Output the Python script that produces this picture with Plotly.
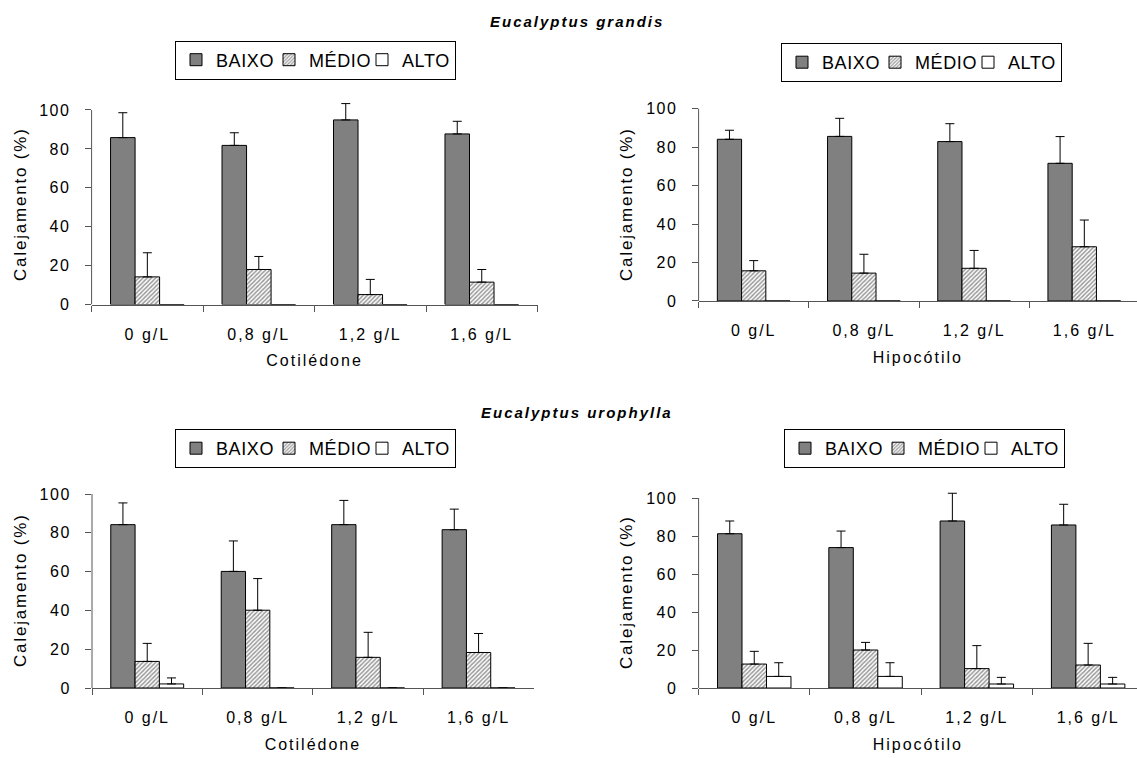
import plotly.graph_objects as go

# ---------------- data ----------------
categories = ["0 g/L", "0,8 g/L", "1,2 g/L", "1,6 g/L"]
series_names = ["BAIXO", "MÉDIO", "ALTO"]
y_ticks = [0, 20, 40, 60, 80, 100]

# Eucalyptus grandis - Cotilédone
gc_baixo = [85.8, 81.8, 94.9, 87.7]
gc_baixo_err = [12.8, 6.5, 8.4, 6.5]
gc_medio = [14.2, 18.0, 5.1, 11.5]
gc_medio_err = [12.4, 6.7, 7.8, 6.5]
gc_alto = [0, 0, 0, 0]
gc_alto_err = [0, 0, 0, 0]

# Eucalyptus grandis - Hipocótilo
gh_baixo = [84.1, 85.6, 82.9, 71.6]
gh_baixo_err = [4.7, 9.4, 9.3, 13.9]
gh_medio = [15.7, 14.5, 17.0, 28.2]
gh_medio_err = [5.3, 9.8, 9.3, 13.9]
gh_alto = [0, 0, 0, 0]
gh_alto_err = [0, 0, 0, 0]

# Eucalyptus urophylla - Cotilédone
uc_baixo = [84.2, 60.1, 84.2, 81.6]
uc_baixo_err = [11.2, 15.7, 12.5, 10.6]
uc_medio = [13.7, 40.1, 15.8, 18.3]
uc_medio_err = [9.3, 16.3, 12.9, 9.8]
uc_alto = [2.1, 0, 0, 0]
uc_alto_err = [3.1, 0, 0, 0]

# Eucalyptus urophylla - Hipocótilo
uh_baixo = [81.2, 73.9, 87.9, 85.8]
uh_baixo_err = [6.7, 8.7, 14.6, 10.9]
uh_medio = [12.6, 20.0, 10.2, 12.1]
uh_medio_err = [6.7, 4.0, 12.1, 11.4]
uh_alto = [6.1, 6.1, 2.1, 2.1]
uh_alto_err = [7.2, 7.2, 3.5, 3.5]

titles = ["Eucalyptus grandis", "Eucalyptus urophylla"]
x_titles = ["Cotilédone", "Hipocótilo", "Cotilédone", "Hipocótilo"]
y_title = "Calejamento (%)"

# ---------------- styling ----------------
W, H = 1137, 758
FONT = "Liberation Sans, Arial, Helvetica, sans-serif"
AXC = "#555555"


def sp(text, ls=2.0):
    return f'<span style="letter-spacing:{ls}px">{text}</span>'


panels = [
    dict(data=[(gc_baixo, gc_baixo_err), (gc_medio, gc_medio_err), (gc_alto, gc_alto_err)],
         alto_err=False, xpx=(91.6, 537.5), y0=304.5, y100=110.0, xend=3.5,
         leg=(175, 40.5), ytit=(20, 204)),
    dict(data=[(gh_baixo, gh_baixo_err), (gh_medio, gh_medio_err), (gh_alto, gh_alto_err)],
         alto_err=False, xpx=(698.6, 1137), y0=301.0, y100=108.7, xend=3.478,
         leg=(781, 43.0), ytit=(626, 204)),
    dict(data=[(uc_baixo, uc_baixo_err), (uc_medio, uc_medio_err), (uc_alto, uc_alto_err)],
         alto_err=True, xpx=(92.0, 533.8), y0=688.0, y100=494.0, xend=3.5,
         leg=(175, 429.0), ytit=(20, 590)),
    dict(data=[(uh_baixo, uh_baixo_err), (uh_medio, uh_medio_err), (uh_alto, uh_alto_err)],
         alto_err=True, xpx=(698.6, 1137), y0=688.0, y100=498.0, xend=3.439,
         leg=(784, 429.0), ytit=(626, 592)),
]

YMAX = 105
fig = go.Figure()
layout = {}
shapes = []
annotations = []

for i, p in enumerate(panels):
    n = "" if i == 0 else str(i + 1)
    xa, ya = "x" + n, "y" + n
    leg = "legend" + n
    for k, (vals, errs) in enumerate(p["data"]):
        marker = dict(line=dict(color="black", width=1))
        if k == 0:
            marker["color"] = "#808080"
        elif k == 1:
            marker["color"] = "white"
            marker["pattern"] = dict(shape="/", fgcolor="#333333", bgcolor="white",
                                     size=3, solidity=0.5)
        else:
            marker["color"] = "white"
        err = dict(type="data", array=errs, arrayminus=[0] * len(errs), symmetric=False,
                   color="black", thickness=1, width=4.5)
        if k == 2 and not p["alto_err"]:
            err["visible"] = False
        fig.add_trace(go.Bar(
            x=categories, y=vals, name=sp(series_names[k], 0.6),
            marker=marker, error_y=err, xaxis=xa, yaxis=ya, legend=leg, showlegend=True,
        ))

    x0p, x1p = p["xpx"]
    ppu = (p["y0"] - p["y100"]) / 100.0
    ytop = p["y0"] - ppu * YMAX
    layout["xaxis" + n] = dict(
        domain=[x0p / W, x1p / W], anchor=ya, type="category",
        categoryorder="array", categoryarray=categories, range=[-0.5, p["xend"]],
        tickmode="array", tickvals=categories, ticktext=[sp(c, 2) for c in categories],
        tickson="boundaries", ticks="outside", ticklen=6, tickcolor=AXC, tickwidth=1,
        showline=True, linecolor=AXC, linewidth=1, showgrid=False, zeroline=False,
        tickfont=dict(family=FONT, size=16, color="black"), ticklabelstandoff=15,
        title=dict(text=sp(x_titles[i], 2), font=dict(family=FONT, size=16, color="black"),
                   standoff=13),
        automargin=False, fixedrange=True,
    )
    layout["yaxis" + n] = dict(
        domain=[(H - p["y0"]) / H, (H - ytop) / H], anchor=xa,
        range=[0, YMAX], tickmode="array", tickvals=y_ticks,
        ticktext=[sp(str(v), 1.5) for v in y_ticks],
        ticks="outside", ticklen=6, tickcolor=AXC, tickwidth=1,
        showline=False, showgrid=False, zeroline=False,
        tickfont=dict(family=FONT, size=16, color="black"), ticklabelstandoff=11,
        automargin=False, fixedrange=True,
    )
    # y axis line from 0 to 100 (error bars may rise above the top tick)
    shapes.append(dict(type="line", xref=xa + " domain", x0=0, x1=0, yref=ya,
                       y0=0, y1=100, line=dict(color=AXC, width=1)))
    # rotated y-axis title
    tx, ty = p["ytit"]
    annotations.append(dict(
        text=sp(y_title, 1.8), textangle=-90, x=tx / W, y=1 - ty / H,
        xref="paper", yref="paper", showarrow=False, xanchor="center", yanchor="middle",
        font=dict(family=FONT, size=17, color="black")))

    lx, ly = p["leg"]
    layout[leg] = dict(
        orientation="h", x=lx / W, y=1 - ly / H, xanchor="left", yanchor="top",
        bordercolor="black", borderwidth=1, bgcolor="white",
        font=dict(family=FONT, size=18, color="black"),
        entrywidth=48, entrywidthmode="pixels", itemwidth=30, tracegroupgap=0,
    )

for t, yy in zip(titles, [22, 412]):
    annotations.append(dict(
        text="<b><i>" + sp(t, 2) + "</i></b>", x=577 / W, y=1 - yy / H,
        xref="paper", yref="paper", showarrow=False, xanchor="center", yanchor="middle",
        font=dict(family=FONT, size=15, color="black")))

fig.update_layout(
    width=W, height=H, margin=dict(l=0, r=0, t=0, b=0, pad=0),
    paper_bgcolor="white", plot_bgcolor="white",
    barmode="group", bargap=0.34, bargroupgap=0,
    font=dict(family=FONT, size=15, color="black"),
    shapes=shapes, annotations=annotations, hovermode=False,
    **layout,
)

fig.write_html("out.html", config={"displayModeBar": False})
